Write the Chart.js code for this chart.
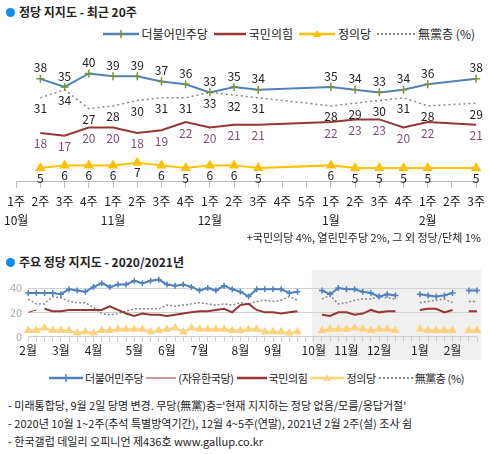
<!DOCTYPE html>
<html>
<head>
<meta charset="utf-8">
<script src="https://cdn.jsdelivr.net/npm/chart.js@4"></script>
<style>
  body { margin: 0; width: 489px; height: 454px; background: #fff; font-family: "Noto Sans CJK KR", sans-serif; position: relative; overflow: hidden; }
  .title { position: absolute; left: 6px; font-size: 12px; font-weight: bold; color: #222; }
  .title:before { content: ''; display: inline-block; width: 9px; height: 9px; border-radius: 50%; background: #0a8cf0; margin-right: 4px; vertical-align: 0px; }
  .legend { position: absolute; display: flex; align-items: center; font-size: 12px; color: #222; white-space: nowrap; }
  .legend svg { margin: 0 3px 0 6px; }
  .legend.small { font-size: 11px; letter-spacing: -0.4px; }
  .legend.small svg { margin: 0 2px 0 3px; }
  .note { position: absolute; font-size: 11px; color: #222; white-space: nowrap; }
  canvas { position: absolute; left: 0; }
</style>
</head>
<body>
<div class="title" style="top:3px">정당 지지도 - 최근 20주</div>
<div class="legend" style="top:25px; right:14px">
  <svg width="36" height="10"><line x1="0" y1="5" x2="36" y2="5" stroke="#4f81bd" stroke-width="2.5"/><path d="M18 1v8M14 5h8" stroke="#77933c" stroke-width="1.5"/></svg>더불어민주당
  <svg width="32" height="10"><line x1="0" y1="5" x2="32" y2="5" stroke="#943634" stroke-width="2.5"/></svg>국민의힘
  <svg width="36" height="10"><line x1="0" y1="5" x2="36" y2="5" stroke="#ffc000" stroke-width="2.5"/><path d="M18 1l4 7h-8z" fill="#ffc000"/></svg>정의당
  <svg width="38" height="10"><line x1="0" y1="5" x2="38" y2="5" stroke="#888" stroke-width="2" stroke-dasharray="2,2"/></svg>無黨층 (%)
</div>
<canvas id="topChart" style="top:0" width="489" height="234"></canvas>
<div class="note" style="top:229px; right:8px; font-size:11px">+국민의당 4%, 열린민주당 2%, 그 외 정당/단체 1%</div>

<div class="title" style="top:253px">주요 정당 지지도 - 2020/2021년</div>
<canvas id="bottomChart" style="top:262px" width="489" height="98"></canvas>
<div class="legend small" style="top:370px; left:46px">
  <svg width="34" height="10"><line x1="0" y1="5" x2="34" y2="5" stroke="#4f81bd" stroke-width="2.5"/><path d="M17 1v8M13 5h8" stroke="#4f81bd" stroke-width="1.5"/></svg>더불어민주당
  <svg width="30" height="10"><line x1="0" y1="5" x2="30" y2="5" stroke="#943634" stroke-width="1"/></svg>(자유한국당)
  <svg width="30" height="10"><line x1="0" y1="5" x2="30" y2="5" stroke="#943634" stroke-width="2.5"/></svg>국민의힘
  <svg width="34" height="10"><line x1="0" y1="5" x2="34" y2="5" stroke="#fcd27c" stroke-width="2.5"/><path d="M17 1l4 7h-8z" fill="#fcd27c"/></svg>정의당
  <svg width="34" height="10"><line x1="0" y1="5" x2="34" y2="5" stroke="#888" stroke-width="2" stroke-dasharray="2,2"/></svg>無黨층 (%)
</div>
<div class="note" style="top:397px; left:8px">- 미래통합당, 9월 2일 당명 변경. 무당(無黨)층='현재 지지하는 정당 없음/모름/응답거절'</div>
<div class="note" style="top:415px; left:8px">- 2020년 10월 1~2주(추석 특별방역기간), 12월 4~5주(연말), 2021년 2월 2주(설) 조사 쉼</div>
<div class="note" style="top:433px; left:8px">- 한국갤럽 데일리 오피니언 제436호 www.gallup.co.kr</div>

<script>
// Recent 20 weeks (2020 Oct wk1 .. 2021 Feb wk3)
const weekLabels = ['1주','2주','3주','4주','1주','2주','3주','4주','1주','2주','3주','4주','5주','1주','2주','3주','4주','1주','2주','3주'];
const monthLabels = ['10월','','','','11월','','','','12월','','','','','1월','','','','2월','',''];
const minjooRecent = [null,38,35,40,39,39,37,36,33,35,34,null,null,35,34,33,34,36,null,38];
const ppRecent = [null,18,17,20,20,18,19,22,20,21,21,null,null,22,23,23,20,22,null,21];
const justiceRecent = [null,5,6,6,6,7,6,5,6,6,5,null,null,6,5,5,5,5,null,5];
const nonRecent = [null,31,34,27,28,30,31,31,33,32,31,null,null,28,29,30,31,28,null,29];

// 2020 Feb wk1 .. Sep wk5 (35 weeks)
const minjoo2020 = [36,36,36,36,35,39,38,37,41,44,41,43,43,46,44,46,47,43,42,43,41,38,40,38,42,39,37,33,39,39,39,39,36,37,null];
const lkp2020 = [20,22];
const pp2020 = [null,null,23,21,21,22,22,22,22,22,25,22,19,17,19,18,18,17,18,19,20,21,21,22,23,20,26,27,22,20,20,19,20,21,null];
const justice2020 = [5,5,7,5,5,5,3,4,3,5,5,6,6,6,6,4,5,6,7,4,7,6,6,6,6,5,5,6,6,4,4,4,3,4,null];
const non2020 = [31,27,27,33,32,29,28,28,24,19,18,19,21,23,23,23,23,26,25,26,27,28,27,26,27,26,28,27,29,30,29,30,33,30,null];
// trailing point drawn after Feb wk3 on the long chart
const minjooTail = [38];
const ppTail = [21];
const justiceTail = [5];
const nonTail = [29];
const monthStarts = {0:'2월',4:'3월',8:'4월',13:'5월',17:'6월',21:'7월',26:'8월',30:'9월',35:'10월',39:'11월',43:'12월',48:'1월',52:'2월'};

const FONT = '"Noto Sans CJK KR", sans-serif';

// value labels on the top chart
const labelPlugin = {
    id: 'valueLabels',
    afterDatasetsDraw(chart) {
        const ctx = chart.ctx;
        ctx.save();
        ctx.font = '12px ' + FONT;
        ctx.textAlign = 'center';
        ctx.textBaseline = 'middle';
        chart.data.datasets.forEach((ds, i) => {
            const meta = chart.getDatasetMeta(i);
            meta.data.forEach((pt, j) => {
                if (ds.data[j] == null) return;
                ctx.fillStyle = ds.labelColor;
                ctx.fillText(ds.data[j], pt.x, pt.y + ds.labelOffset);
            });
        });
        ctx.restore();
    }
};

new Chart(document.getElementById('topChart'), {
    type: 'line',
    data: {
        labels: weekLabels.map((w, i) => [w, monthLabels[i]]),
        datasets: [
            { data: minjooRecent, borderColor: '#4f81bd', borderWidth: 2, pointStyle: 'cross', pointRadius: 4, pointBorderColor: '#77933c', pointBorderWidth: 1.5, labelColor: '#222', labelOffset: -11 },
            { data: ppRecent, borderColor: '#943634', borderWidth: 2, pointRadius: 0, labelColor: '#7b4f76', labelOffset: 11 },
            { data: justiceRecent, borderColor: '#ffc000', borderWidth: 2, pointStyle: 'triangle', pointRadius: 4, pointBackgroundColor: '#ffc000', pointBorderColor: '#ffc000', labelColor: '#222', labelOffset: 10 },
            { data: nonRecent, borderColor: '#888', borderWidth: 1.5, borderDash: [2, 3], pointRadius: 0, labelColor: '#222', labelOffset: 11 }
        ]
    },
    options: {
        responsive: false, animation: false, spanGaps: true,
        layout: { padding: { left: 10, right: 10, top: 41 } },
        plugins: { legend: { display: false }, tooltip: { enabled: false } },
        scales: {
            x: {
                offset: false,
                grid: { drawOnChartArea: false, color: '#bbb', tickLength: 6 },
                border: { color: '#bbb' },
                ticks: { color: '#222', font: { size: 12, family: FONT, lineHeight: 1.6 }, maxRotation: 0, autoSkip: false, padding: 4 }
            },
            y: { display: false, min: 0, max: 52 }
        }
    },
    plugins: [labelPlugin]
});

// Bottom chart: full series
const minjooAll = minjoo2020.concat(minjooRecent, minjooTail);
const ppAll = pp2020.concat(ppRecent, ppTail);
const justiceAll = justice2020.concat(justiceRecent, justiceTail);
const nonAll = non2020.concat(nonRecent, nonTail);
const lkpAll = minjooAll.map((v, i) => i < lkp2020.length ? lkp2020[i] : null);

const shadePlugin = {
    id: 'shade',
    beforeDraw(chart) {
        const ctx = chart.ctx, x = chart.scales.x, a = chart.chartArea;
        ctx.save();
        ctx.fillStyle = '#f0f0f0';
        const left = x.getPixelForValue(35) - 2;
        ctx.fillRect(left, a.top - 6, a.right + 4 - left, chart.height - a.top + 6);
        ctx.restore();
    }
};

new Chart(document.getElementById('bottomChart'), {
    type: 'line',
    data: {
        labels: minjooAll.map((v, i) => monthStarts[i] || ''),
        datasets: [
            { data: minjooAll, borderColor: '#4f81bd', borderWidth: 2, pointStyle: 'cross', pointRadius: 3, pointBorderColor: '#4f81bd', pointBorderWidth: 1.5 },
            { data: lkpAll, borderColor: '#943634', borderWidth: 1, pointRadius: 0 },
            { data: ppAll, borderColor: '#943634', borderWidth: 2, pointRadius: 0 },
            { data: justiceAll, borderColor: '#fcd27c', borderWidth: 2, pointStyle: 'triangle', pointRadius: 3, pointBackgroundColor: '#fcd27c', pointBorderColor: '#fcd27c' },
            { data: nonAll, borderColor: '#888', borderWidth: 1.5, borderDash: [2, 2], pointRadius: 0 }
        ]
    },
    options: {
        responsive: false, animation: false, spanGaps: false,
        layout: { padding: { left: 4, right: 12, top: 14 } },
        plugins: { legend: { display: false }, tooltip: { enabled: false } },
        scales: {
            x: {
                offset: false,
                grid: { drawOnChartArea: false, color: '#ccc', tickLength: 5 },
                border: { display: false },
                ticks: { color: '#222', font: { size: 12, family: FONT }, maxRotation: 0, autoSkip: false, padding: 2 }
            },
            y: {
                min: 0, max: 50,
                afterBuildTicks: s => { s.ticks = [0, 20, 40].map(v => ({ value: v })); },
                grid: { color: '#d0d0d0', drawTicks: false },
                border: { display: false },
                ticks: { color: '#aaa', font: { size: 11, family: FONT }, padding: 6 }
            }
        }
    },
    plugins: [shadePlugin]
});
</script>
</body>
</html>
